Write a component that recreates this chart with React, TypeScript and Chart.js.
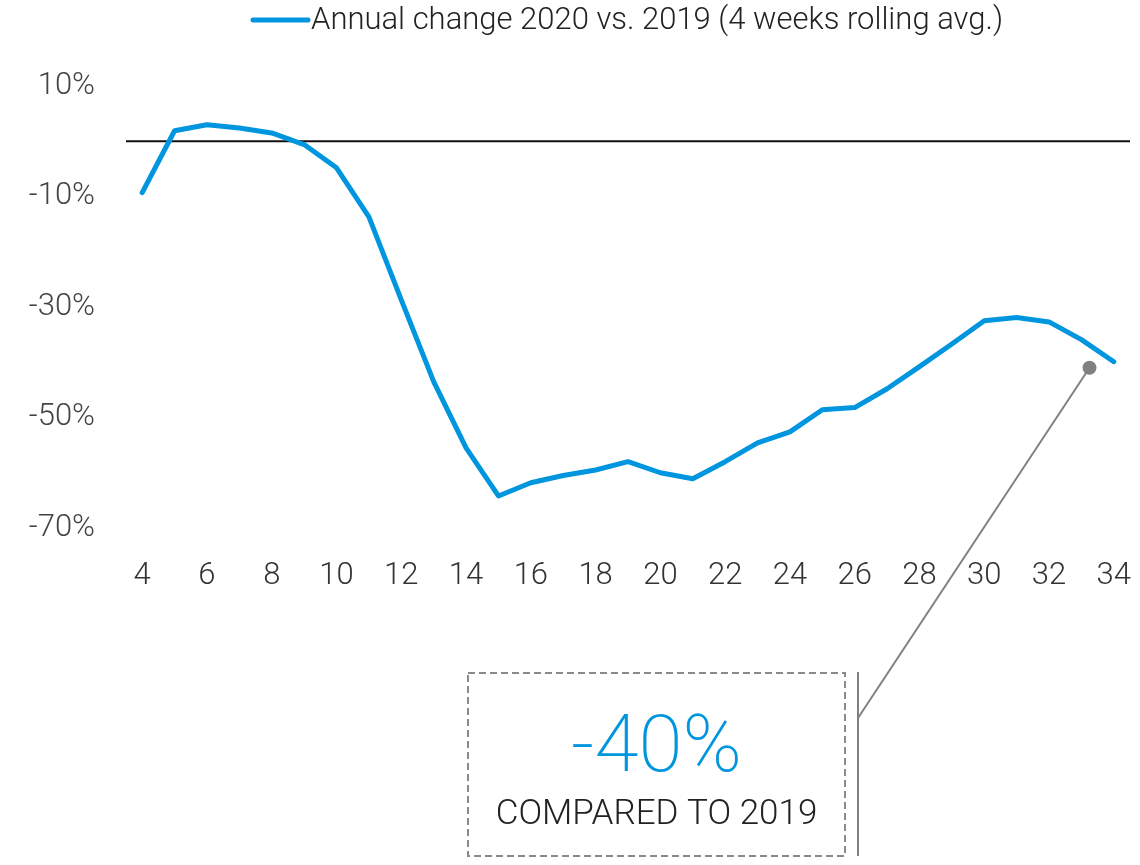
import React, { useEffect, useRef } from "react";
import { Chart, registerables } from "chart.js";

Chart.register(...registerables);

const weeks: number[] = [4, 5, 6, 7, 8, 9, 10, 11, 12, 13, 14, 15, 16, 17, 18, 19, 20, 21, 22, 23, 24, 25, 26, 27, 28, 29, 30, 31, 32, 33, 34];
const annualChange: number[] = [-9.3, 1.9, 3.0, 2.4, 1.5, -0.6, -4.8, -13.7, -28.7, -43.5, -55.5, -64.2, -61.8, -60.5, -59.5, -58.0, -60.0, -61.1, -58.0, -54.6, -52.6, -48.6, -48.2, -44.8, -40.8, -36.7, -32.5, -31.9, -32.7, -35.9, -39.9];
const yTicks: number[] = [10, -10, -30, -50, -70];
const legendLabel = "Annual change 2020 vs. 2019 (4 weeks rolling avg.)";
const calloutWeek = 33.25;
const calloutValue = -41;
const calloutBig = "-40%";
const calloutSmall = "COMPARED TO 2019";

const FONT = "Roboto, 'Open Sans', sans-serif";
const BLUE = "#0096DF";
const GREY = "#808080";

const overlayPlugin = {
  id: "overlay",
  beforeDatasetsDraw(chart: any) {
    const { ctx, chartArea, scales } = chart;
    const y0 = scales.y.getPixelForValue(0);
    ctx.save();
    ctx.strokeStyle = "#111";
    ctx.lineWidth = 2;
    ctx.beginPath();
    ctx.moveTo(chartArea.left, y0);
    ctx.lineTo(chartArea.right, y0);
    ctx.stroke();
    ctx.restore();
  },
  afterDraw(chart: any) {
    const { ctx, chartArea, scales } = chart;
    ctx.save();
    // legend
    ctx.font = `300 31px ${FONT}`;
    const tw = ctx.measureText(legendLabel).width;
    const total = 58 + tw;
    const cx = (chartArea.left + chartArea.right) / 2;
    const lx = cx - total / 2;
    ctx.strokeStyle = BLUE;
    ctx.lineWidth = 5;
    ctx.lineCap = "round";
    ctx.beginPath();
    ctx.moveTo(lx, 20);
    ctx.lineTo(lx + 55, 20);
    ctx.stroke();
    ctx.fillStyle = "#222";
    ctx.textBaseline = "middle";
    ctx.textAlign = "left";
    ctx.fillText(legendLabel, lx + 58, 21);

    // callout
    const i0 = Math.floor(calloutWeek - weeks[0]);
    const frac = calloutWeek - weeks[0] - i0;
    const xa = scales.x.getPixelForValue(i0);
    const xb = scales.x.getPixelForValue(i0 + 1);
    const dx = xa + (xb - xa) * frac;
    const dy = scales.y.getPixelForValue(calloutValue);
    const vx = 858;
    ctx.strokeStyle = GREY;
    ctx.lineWidth = 2;
    ctx.lineCap = "butt";
    ctx.beginPath();
    ctx.moveTo(dx, dy);
    ctx.lineTo(vx, 718);
    ctx.stroke();
    ctx.beginPath();
    ctx.moveTo(vx, 672);
    ctx.lineTo(vx, 856);
    ctx.stroke();
    ctx.fillStyle = GREY;
    ctx.beginPath();
    ctx.arc(dx, dy, 7, 0, Math.PI * 2);
    ctx.fill();

    // dashed box
    ctx.setLineDash([7, 4]);
    ctx.strokeStyle = "#8a8a8a";
    ctx.lineWidth = 2;
    ctx.strokeRect(468, 673, 377, 183);
    ctx.setLineDash([]);
    const bx = 468 + 377 / 2;
    ctx.textAlign = "center";
    ctx.textBaseline = "alphabetic";
    ctx.fillStyle = BLUE;
    ctx.font = `200 80px ${FONT}`;
    ctx.fillText(calloutBig, bx, 771);
    ctx.fillStyle = "#222";
    ctx.font = `300 35px ${FONT}`;
    ctx.fillText(calloutSmall, bx, 824);
    ctx.restore();
  },
};

export default function App() {
  const ref = useRef<HTMLCanvasElement>(null);
  useEffect(() => {
    if (!ref.current) return;
    const chart = new Chart(ref.current, {
      type: "line",
      data: {
        labels: weeks.map(String),
        datasets: [
          {
            label: legendLabel,
            data: annualChange,
            borderColor: BLUE,
            backgroundColor: BLUE,
            borderWidth: 5,
            pointRadius: 0,
            tension: 0,
            borderCapStyle: "round",
            borderJoinStyle: "round",
          },
        ],
      },
      options: {
        animation: false,
        responsive: false,
        layout: { padding: { top: 86, right: 10, bottom: 257, left: 0 } },
        plugins: { legend: { display: false }, tooltip: { enabled: false } },
        scales: {
          x: {
            offset: true,
            grid: { display: false },
            border: { display: false },
            afterFit(scale: any) {
              scale.height = 80;
              scale.paddingLeft = 0;
              scale.paddingRight = 0;
            },
            ticks: {
              autoSkip: false,
              maxRotation: 0,
              padding: 22,
              color: "#333",
              font: { family: FONT, size: 31, weight: "300" },
              callback: (_v: any, i: number) => (weeks[i] % 2 === 0 ? String(weeks[i]) : ""),
            },
          },
          y: {
            min: -70,
            max: 10,
            grid: { display: false },
            border: { display: false },
            afterFit(scale: any) {
              scale.width = 126;
              scale.paddingTop = 0;
              scale.paddingBottom = 0;
            },
            afterBuildTicks(scale: any) {
              scale.ticks = yTicks.map((v) => ({ value: v }));
            },
            ticks: {
              padding: 23,
              color: "#444",
              font: { family: FONT, size: 31, weight: "300" },
              callback: (v: any) => `${v}%`,
            },
          },
        },
      },
      plugins: [overlayPlugin],
    });
    return () => chart.destroy();
  }, []);
  return (
    <div style={{ position: "absolute", left: 0, top: 0, width: 1140, height: 865, background: "#fff" }}>
      <canvas ref={ref} width={1140} height={865} style={{ display: "block" }} />
    </div>
  );
}
